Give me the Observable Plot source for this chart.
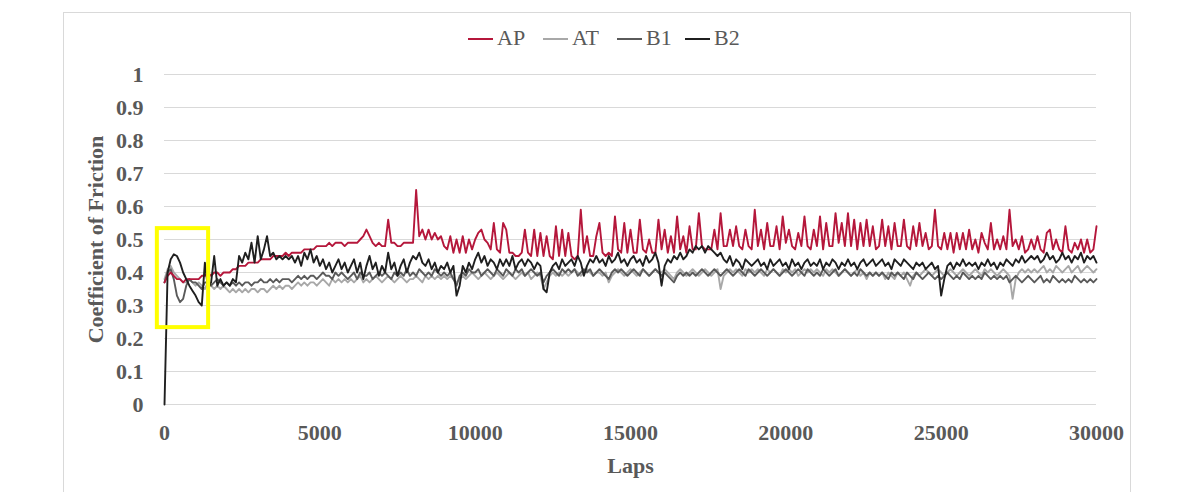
<!DOCTYPE html>
<html><head><meta charset="utf-8">
<script src="https://cdn.jsdelivr.net/npm/d3@7"></script>
<script src="https://cdn.jsdelivr.net/npm/@observablehq/plot@0.6"></script>
<style>
html,body{margin:0;padding:0;background:#fff;}
#page{position:relative;width:1192px;height:492px;overflow:hidden;font-family:"Liberation Serif","Times New Roman",serif;}
#frame{position:absolute;left:63px;top:12px;width:1068px;height:482px;border:1px solid #d9d9d9;box-sizing:border-box;}
#legend{position:absolute;left:0;top:0;width:1192px;height:56px;}
.item{position:absolute;top:24px;font-size:22px;color:#595959;line-height:28px;white-space:nowrap;}
.sw{display:inline-block;width:25px;height:2.5px;vertical-align:middle;margin-right:4px;margin-top:-2px;}
#chart{position:absolute;left:0;top:56px;}
</style></head>
<body>
<div id="page"><div id="frame"></div><div id="legend"></div><div id="chart"></div></div>
<script>
const seriesNames = ["AP", "AT", "B1", "B2"];
const seriesColors = ["#b5173b", "#a8a8a8", "#5a5a5a", "#1f1f1f"];
const xTicks = [0, 5000, 10000, 15000, 20000, 25000, 30000];
const yTicks = [0, 0.1, 0.2, 0.3, 0.4, 0.5, 0.6, 0.7, 0.8, 0.9, 1];
const laps = d3.range(0, 30001, 100);

const AP = [
0.37,0.39,0.40,0.39,0.38,0.38,0.37,0.38,0.38,0.38,
0.38,0.38,0.39,0.39,0.40,0.39,0.40,0.40,0.39,0.40,
0.40,0.40,0.41,0.41,0.42,0.42,0.42,0.43,0.43,0.43,
0.43,0.44,0.44,0.44,0.44,0.45,0.45,0.45,0.45,0.46,
0.45,0.46,0.46,0.46,0.46,0.47,0.47,0.47,0.47,0.48,
0.48,0.48,0.48,0.49,0.48,0.49,0.49,0.49,0.48,0.49,
0.49,0.49,0.49,0.50,0.51,0.53,0.51,0.49,0.48,0.49,
0.48,0.48,0.56,0.49,0.49,0.48,0.48,0.49,0.49,0.49,
0.49,0.65,0.51,0.53,0.50,0.53,0.50,0.52,0.50,0.51,
0.48,0.47,0.51,0.46,0.50,0.46,0.51,0.46,0.50,0.47,
0.50,0.52,0.53,0.50,0.49,0.47,0.55,0.47,0.46,0.55,
0.53,0.46,0.46,0.45,0.45,0.46,0.53,0.46,0.45,0.53,
0.45,0.52,0.45,0.51,0.45,0.44,0.54,0.45,0.53,0.45,
0.52,0.45,0.44,0.45,0.59,0.46,0.51,0.45,0.45,0.51,
0.55,0.46,0.45,0.46,0.45,0.57,0.47,0.46,0.55,0.46,
0.53,0.46,0.46,0.56,0.47,0.46,0.50,0.46,0.46,0.56,
0.47,0.53,0.46,0.51,0.46,0.57,0.47,0.51,0.46,0.54,
0.47,0.47,0.58,0.48,0.47,0.47,0.47,0.53,0.47,0.58,
0.48,0.48,0.53,0.48,0.54,0.48,0.47,0.53,0.48,0.47,
0.59,0.48,0.53,0.47,0.55,0.48,0.48,0.54,0.47,0.57,
0.49,0.53,0.48,0.47,0.52,0.48,0.57,0.48,0.47,0.53,
0.48,0.57,0.47,0.55,0.48,0.48,0.58,0.49,0.55,0.48,
0.58,0.48,0.56,0.47,0.55,0.48,0.56,0.48,0.54,0.47,
0.48,0.56,0.48,0.54,0.47,0.55,0.48,0.48,0.56,0.48,
0.47,0.54,0.48,0.55,0.48,0.52,0.47,0.48,0.59,0.48,
0.47,0.52,0.47,0.52,0.46,0.52,0.47,0.52,0.47,0.53,
0.47,0.50,0.46,0.52,0.49,0.47,0.55,0.47,0.50,0.47,
0.51,0.47,0.59,0.48,0.50,0.47,0.51,0.46,0.47,0.50,
0.47,0.51,0.47,0.46,0.52,0.53,0.47,0.50,0.47,0.46,
0.54,0.47,0.46,0.49,0.47,0.50,0.46,0.50,0.46,0.47,
0.54];

const AT = [
0.38,0.41,0.42,0.40,0.39,0.38,0.37,0.37,0.38,0.37,
0.36,0.37,0.36,0.35,0.37,0.36,0.35,0.36,0.35,0.36,
0.35,0.34,0.35,0.34,0.35,0.34,0.35,0.34,0.35,0.35,
0.34,0.35,0.35,0.34,0.35,0.36,0.35,0.36,0.35,0.36,
0.36,0.35,0.36,0.37,0.36,0.37,0.36,0.37,0.37,0.36,
0.37,0.38,0.37,0.36,0.38,0.37,0.38,0.37,0.38,0.37,
0.38,0.37,0.38,0.39,0.37,0.38,0.37,0.38,0.39,0.38,
0.37,0.38,0.39,0.38,0.37,0.38,0.39,0.38,0.37,0.38,
0.38,0.39,0.38,0.37,0.39,0.38,0.39,0.38,0.39,0.38,
0.39,0.38,0.39,0.38,0.37,0.38,0.39,0.38,0.39,0.40,
0.39,0.38,0.39,0.40,0.39,0.38,0.39,0.40,0.39,0.38,
0.39,0.40,0.39,0.38,0.39,0.40,0.39,0.40,0.38,0.39,
0.40,0.39,0.35,0.37,0.39,0.40,0.39,0.40,0.39,0.40,
0.39,0.40,0.41,0.40,0.39,0.40,0.41,0.40,0.39,0.40,
0.40,0.39,0.40,0.37,0.39,0.40,0.41,0.40,0.39,0.40,
0.41,0.40,0.39,0.40,0.41,0.40,0.39,0.40,0.41,0.40,
0.40,0.41,0.40,0.39,0.38,0.40,0.41,0.40,0.39,0.40,
0.41,0.40,0.39,0.40,0.41,0.40,0.39,0.40,0.41,0.35,
0.39,0.40,0.41,0.40,0.41,0.40,0.39,0.41,0.40,0.41,
0.40,0.41,0.40,0.39,0.41,0.40,0.41,0.40,0.39,0.41,
0.40,0.41,0.40,0.41,0.39,0.40,0.41,0.40,0.41,0.40,
0.41,0.40,0.39,0.41,0.40,0.41,0.40,0.39,0.40,0.41,
0.40,0.39,0.40,0.41,0.39,0.40,0.38,0.40,0.39,0.40,
0.39,0.40,0.38,0.40,0.39,0.38,0.40,0.39,0.40,0.38,
0.36,0.39,0.40,0.39,0.40,0.41,0.40,0.39,0.40,0.41,
0.40,0.39,0.40,0.41,0.40,0.39,0.40,0.41,0.40,0.39,
0.40,0.41,0.40,0.39,0.41,0.40,0.41,0.40,0.39,0.40,
0.41,0.40,0.39,0.32,0.38,0.40,0.41,0.40,0.41,0.40,
0.41,0.40,0.41,0.42,0.40,0.41,0.40,0.42,0.41,0.40,
0.41,0.42,0.40,0.41,0.42,0.40,0.41,0.42,0.41,0.40,
0.41];

const B1 = [
0.37,0.40,0.41,0.38,0.33,0.31,0.32,0.36,0.38,0.37,
0.37,0.36,0.35,0.37,0.37,0.36,0.37,0.38,0.37,0.36,
0.37,0.36,0.37,0.36,0.37,0.36,0.37,0.37,0.36,0.37,
0.37,0.38,0.37,0.37,0.38,0.37,0.38,0.37,0.38,0.38,
0.38,0.37,0.38,0.39,0.38,0.39,0.38,0.39,0.39,0.38,
0.39,0.40,0.39,0.39,0.38,0.40,0.39,0.40,0.39,0.38,
0.39,0.40,0.38,0.40,0.39,0.39,0.40,0.38,0.39,0.40,
0.39,0.40,0.39,0.38,0.40,0.39,0.40,0.39,0.41,0.39,
0.40,0.39,0.41,0.40,0.39,0.40,0.39,0.41,0.40,0.39,
0.40,0.39,0.40,0.38,0.36,0.39,0.40,0.39,0.41,0.40,
0.40,0.41,0.39,0.40,0.41,0.40,0.39,0.41,0.40,0.39,
0.41,0.40,0.39,0.41,0.40,0.41,0.39,0.40,0.41,0.40,
0.39,0.40,0.37,0.39,0.40,0.41,0.40,0.39,0.41,0.40,
0.41,0.40,0.41,0.39,0.40,0.41,0.40,0.41,0.39,0.40,
0.41,0.40,0.39,0.38,0.40,0.41,0.40,0.41,0.40,0.39,
0.40,0.41,0.40,0.39,0.41,0.40,0.39,0.40,0.41,0.40,
0.39,0.40,0.39,0.38,0.37,0.39,0.40,0.39,0.40,0.39,
0.40,0.39,0.40,0.41,0.40,0.39,0.40,0.41,0.40,0.39,
0.40,0.41,0.40,0.39,0.40,0.41,0.40,0.39,0.41,0.40,
0.39,0.40,0.41,0.40,0.39,0.40,0.41,0.40,0.39,0.40,
0.41,0.40,0.39,0.40,0.41,0.40,0.39,0.41,0.40,0.39,
0.40,0.39,0.41,0.40,0.39,0.40,0.41,0.39,0.40,0.41,
0.40,0.39,0.40,0.39,0.41,0.40,0.39,0.40,0.39,0.40,
0.39,0.40,0.39,0.38,0.40,0.39,0.40,0.39,0.38,0.40,
0.39,0.38,0.40,0.39,0.38,0.39,0.40,0.39,0.38,0.39,
0.38,0.39,0.40,0.39,0.38,0.39,0.38,0.40,0.39,0.38,
0.39,0.38,0.39,0.38,0.40,0.39,0.38,0.39,0.38,0.39,
0.38,0.39,0.37,0.38,0.39,0.38,0.37,0.38,0.39,0.38,
0.37,0.38,0.39,0.37,0.38,0.37,0.39,0.38,0.37,0.38,
0.37,0.38,0.37,0.39,0.38,0.37,0.38,0.37,0.38,0.37,
0.38];

const B2 = [
0.00,0.40,0.44,0.455,0.45,0.43,0.40,0.38,0.36,0.345,
0.33,0.31,0.30,0.43,0.35,0.37,0.45,0.36,0.38,0.36,
0.37,0.36,0.38,0.37,0.45,0.43,0.46,0.44,0.49,0.43,
0.51,0.44,0.47,0.51,0.45,0.46,0.44,0.45,0.44,0.45,
0.44,0.45,0.43,0.45,0.42,0.46,0.44,0.47,0.43,0.45,
0.42,0.44,0.41,0.43,0.40,0.42,0.44,0.41,0.43,0.40,
0.42,0.44,0.40,0.43,0.38,0.42,0.45,0.41,0.43,0.39,
0.42,0.40,0.46,0.41,0.43,0.39,0.42,0.44,0.40,0.43,
0.45,0.44,0.46,0.43,0.42,0.44,0.41,0.43,0.40,0.42,
0.41,0.43,0.40,0.42,0.33,0.36,0.42,0.40,0.43,0.41,
0.44,0.46,0.43,0.45,0.42,0.44,0.43,0.41,0.44,0.42,
0.44,0.42,0.45,0.41,0.43,0.44,0.42,0.44,0.43,0.41,
0.43,0.42,0.35,0.34,0.40,0.42,0.43,0.41,0.44,0.42,
0.43,0.44,0.42,0.45,0.43,0.39,0.42,0.44,0.43,0.45,
0.43,0.44,0.42,0.45,0.43,0.44,0.46,0.43,0.44,0.42,
0.44,0.45,0.43,0.44,0.42,0.45,0.43,0.44,0.46,0.43,
0.36,0.42,0.44,0.43,0.45,0.44,0.46,0.44,0.45,0.47,
0.46,0.48,0.47,0.48,0.46,0.48,0.47,0.46,0.45,0.46,
0.44,0.43,0.45,0.42,0.44,0.43,0.41,0.44,0.43,0.42,
0.43,0.44,0.42,0.43,0.41,0.44,0.42,0.43,0.44,0.42,
0.43,0.41,0.44,0.42,0.43,0.41,0.43,0.44,0.42,0.43,
0.42,0.44,0.41,0.43,0.42,0.44,0.43,0.41,0.43,0.42,
0.44,0.42,0.43,0.41,0.43,0.44,0.42,0.43,0.44,0.42,
0.43,0.44,0.42,0.43,0.41,0.44,0.43,0.42,0.44,0.43,
0.42,0.41,0.43,0.42,0.43,0.41,0.42,0.43,0.41,0.42,
0.33,0.38,0.42,0.43,0.41,0.43,0.42,0.44,0.42,0.43,
0.42,0.43,0.41,0.43,0.42,0.44,0.42,0.43,0.41,0.43,
0.42,0.44,0.43,0.42,0.44,0.43,0.45,0.43,0.44,0.45,
0.44,0.45,0.43,0.44,0.46,0.44,0.45,0.43,0.44,0.46,
0.44,0.45,0.43,0.45,0.44,0.46,0.43,0.45,0.44,0.45,
0.43];

// highlighted region (yellow box), in data units
const highlightLaps = [-230, 1420];
const highlightCof = [0.233, 0.533];

const valuesBySeries = {AP, AT, B1, B2};
const drawOrder = ["AT", "B1", "AP", "B2"];
const rows = [];
for (const name of drawOrder) {
  valuesBySeries[name].forEach((v, i) => rows.push({series: name, lap: laps[i], cof: v}));
}

// legend
const legendLeft = [468, 543, 617, 685];
const legend = document.getElementById("legend");
seriesNames.forEach((name, i) => {
  const el = document.createElement("div");
  el.className = "item";
  el.style.left = legendLeft[i] + "px";
  el.innerHTML = `<span class="sw" style="background:${seriesColors[i]}"></span>${name}`;
  legend.appendChild(el);
});

const textColor = "#595959";
const chart = Plot.plot({
  width: 1192, height: 436,
  marginLeft: 164, marginRight: 96, marginTop: 18, marginBottom: 88,
  style: {fontFamily: "'Liberation Serif', 'Times New Roman', serif", fontSize: "22px", color: textColor, background: "transparent", overflow: "visible"},
  x: {domain: [0, 30000]},
  y: {domain: [0, 1]},
  color: {domain: seriesNames, range: seriesColors},
  marks: [
    Plot.gridY(yTicks, {stroke: "#d9d9d9", strokeOpacity: 1, strokeWidth: 1}),
    Plot.axisY({ticks: yTicks, tickSize: 0, tickPadding: 21, tickFormat: d => String(+d.toFixed(1)), label: null, fontWeight: "bold", fill: textColor, fontSize: 22}),
    Plot.axisX({ticks: xTicks, tickSize: 0, tickPadding: 20, tickFormat: d => String(d), label: null, fontWeight: "bold", fill: textColor, fontSize: 22}),
    Plot.line(rows, {x: "lap", y: "cof", z: "series", stroke: "series", strokeWidth: 1.9, strokeLinejoin: "round"}),
    Plot.rect([0], {x1: () => highlightLaps[0], x2: () => highlightLaps[1], y1: () => highlightCof[0], y2: () => highlightCof[1], fill: "none", stroke: "#ffff00", strokeWidth: 4, clip: false}),
    Plot.text(["Laps"], {frameAnchor: "bottom", dy: 61, lineAnchor: "middle", fontWeight: "bold", fill: textColor, fontSize: 22}),
    Plot.text(["Coefficient of Friction"], {frameAnchor: "left", dx: -69, rotate: -90, lineAnchor: "middle", textAnchor: "middle", fontWeight: "bold", fill: textColor, fontSize: 22})
  ]
});
document.getElementById("chart").appendChild(chart);
</script>
</body></html>
